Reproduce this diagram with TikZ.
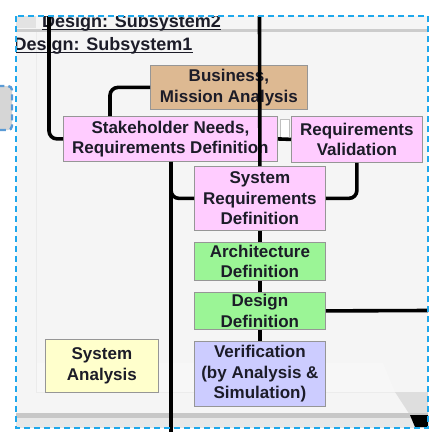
\documentclass[tikz,border=0pt]{standalone}
\usepackage{fontspec}
\setmainfont{Liberation Sans}
\usetikzlibrary{calc}
\definecolor{tanc}{RGB}{221,185,146}
\definecolor{pinkc}{RGB}{255,204,255}
\definecolor{greenc}{RGB}{155,245,150}
\definecolor{lavc}{RGB}{204,204,255}
\definecolor{yelc}{RGB}{255,255,204}
\definecolor{bordc}{RGB}{150,150,150}
\definecolor{framec}{RGB}{30,168,236}
\definecolor{leftc}{RGB}{91,155,213}
\definecolor{txtc}{RGB}{28,28,40}
\definecolor{bgc}{RGB}{245,245,245}
\tikzset{
  box/.style={draw=bordc, line width=0.8pt, inner sep=0pt, align=center, anchor=north west,
    text=txtc, font=\bfseries\fontsize{17}{20.5}\selectfont},
  conn/.style={draw=black, line width=3.6pt, rounded corners=8pt},
  hdr/.style={inner sep=0pt, anchor=base west, text=txtc, font=\bfseries\fontsize{18}{20}\selectfont},
}
\begin{document}
\begin{tikzpicture}[x=1pt,y=-1pt]
\useasboundingbox (0,0) rectangle (437,432);
% left partial element
\draw[fill=black!16, draw=leftc, line width=2.4pt, dash pattern=on 6pt off 4pt, rounded corners=4pt] (-12,86) rectangle (12,130);
% frame background
\fill[bgc] (16,16) rectangle (428,428);
\begin{scope}
\clip (16,16) rectangle (428,428);
\fill[black!11] (16,16) rectangle (36,28);
\draw[black!8, line width=0.8pt] (36.5,31) -- (36.5,392) -- (398,392);
\fill[black!3] (37,363) -- (383,363) -- (395,392) -- (37,392) -- cycle;
\fill[black!13] (395,392) -- (428,392) -- (428,415) -- (410,415) -- cycle;
\fill[black!9] (16,418) rectangle (428,428);
\fill[black!22] (16,413) rectangle (428,418);
\fill[black] (410,415) -- (428,415) -- (428,427) -- (415,427) -- cycle;
\fill[black!20] (16,29) rectangle (428,31.5);
\node[hdr] (sub2) at (42,27.5) {Design: Subsystem2};
\draw[txtc, line width=1.4pt] ([yshift=-2pt]sub2.base west) -- ([yshift=-2pt]sub2.base east);
\node[hdr] (sub1) at (13.5,50) {Design: Subsystem1};
\draw[txtc, line width=1.4pt] ([yshift=-2.3pt]sub1.base west) -- ([yshift=-2.3pt]sub1.base east);
\end{scope}
% faint gap marker between stakeholder and validation
\draw[fill=white, draw=black!25, line width=0.8pt] (280,137) -- (280,119) -- (289,119) -- (289,137);
% nodes
\node[box, fill=tanc, minimum width=157pt, minimum height=44pt] (biz) at (150,65) {Business,\\Mission Analysis};
\node[box, fill=pinkc, minimum width=214pt, minimum height=45pt] (stake) at (63,116) {Stakeholder Needs,\\Requirements Definition};
\node[box, fill=pinkc, minimum width=131pt, minimum height=46pt] (rval) at (291,116) {Requirements\\Validation};
\node[box, fill=pinkc, minimum width=131pt, minimum height=64pt] (sreq) at (194,166) {System\\Requirements\\Definition};
\node[box, fill=greenc, minimum width=131pt, minimum height=38pt] (arch) at (194,242) {Architecture\\Definition};
\node[box, fill=greenc, minimum width=131pt, minimum height=37pt] (des) at (194,292) {Design\\Definition};
\node[box, fill=lavc, minimum width=131pt, minimum height=65pt] (ver) at (194,341) {Verification\\(by Analysis \&\\Simulation)};
\node[box, fill=yelc, minimum width=113pt, minimum height=53pt] (sana) at (45,339) {System\\Analysis};
% free ends
\coordinate (topA) at (259.5,16);
\coordinate (topB) at (49,16);
\coordinate (botC) at (171,432);
\coordinate (rightD) at (428,310.5);
% connectors
\draw[conn] (topA) -- (sreq.north);
\draw[conn] (topB) |- (stake.west);
\draw[conn] (biz.west) -| ([xshift=47pt]stake.north west);
\draw[conn] (stake.east) -- (rval.west);
\draw[conn] ([xshift=108pt]stake.south west) -- (botC);
\draw[conn] ([xshift=108pt]stake.south west) |- (sreq.west);
\draw[conn] (rval.south) |- (sreq.east);
\draw[conn] (sreq.south) -- (arch.north);
\draw[conn] (arch.south) -- (des.north);
\draw[conn] (des.south) -- (ver.north);
\draw[conn] (des.east) -- (rightD);
% dashed frame
\draw[framec, line width=2pt, dash pattern=on 6pt off 4pt] (16,16) rectangle (428,428);
\end{tikzpicture}
\end{document}
